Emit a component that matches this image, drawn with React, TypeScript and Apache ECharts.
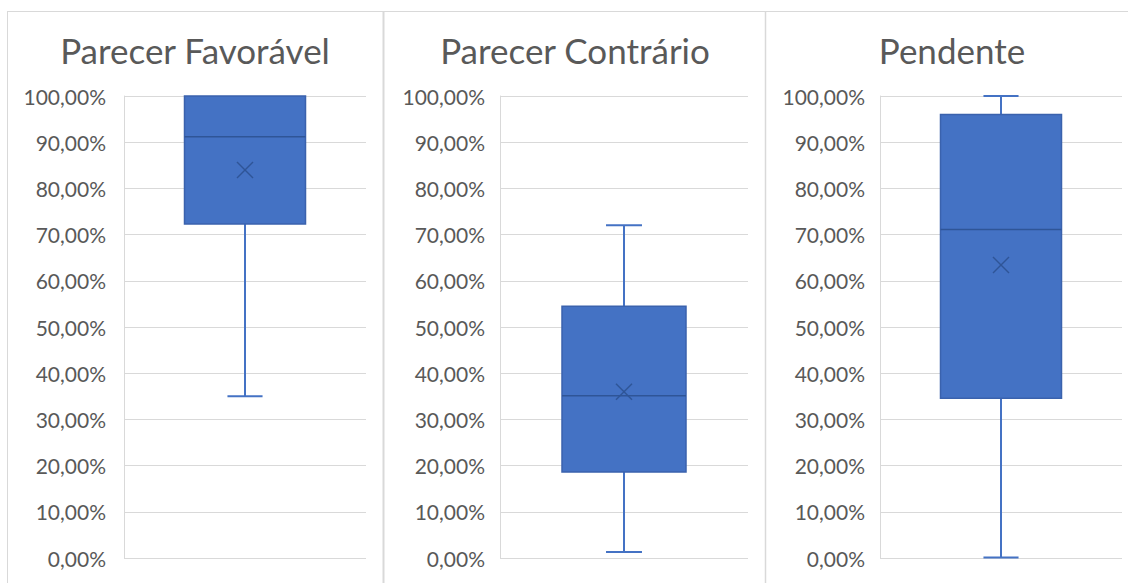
import React, { useEffect, useRef } from "react";
import * as echarts from "echarts";

const categories = ["Parecer Favorável", "Parecer Contrário", "Pendente"];
const minVals = [0.35, 0.013, 0.001];
const q1Vals = [0.723, 0.186, 0.346];
const medianVals = [0.912, 0.351, 0.711];
const q3Vals = [1.0, 0.545, 0.96];
const maxVals = [1.0, 0.72, 1.0];
const meanVals = [0.84, 0.36, 0.634];
const yTicks = [0, 0.1, 0.2, 0.3, 0.4, 0.5, 0.6, 0.7, 0.8, 0.9, 1.0];

const gridLefts = [124, 500, 880];
const gridWidths = [242, 248, 242];
const labelMargins = [18, 15, 15];
const titleCenters = [195, 575, 952];

const FONT = "Lato";
const TEXT = "#595959";
const GRID = "#d9d9d9";
const FILL = "#4472C4";
const DARK = "#2F5597";

const fmt = (v: number) => (v * 100).toFixed(2).replace(".", ",") + "%";

export default function App() {
  const ref = useRef<HTMLDivElement>(null);
  useEffect(() => {
    if (!ref.current) return;
    const chart = echarts.init(ref.current, null, { renderer: "svg" });
    const grids = categories.map((_, i) => ({
      left: gridLefts[i],
      width: gridWidths[i],
      top: 96,
      bottom: 25,
    }));
    const xAxes = categories.map((c, i) => ({
      type: "category",
      gridIndex: i,
      data: [c],
      axisLine: { show: false },
      axisTick: { show: false },
      axisLabel: { show: false },
    }));
    const yAxes = categories.map((_, i) => ({
      type: "value",
      gridIndex: i,
      min: 0,
      max: 1,
      interval: 0.1,
      axisLine: { show: true, lineStyle: { color: GRID, width: 1 } },
      axisTick: { show: false },
      splitLine: { lineStyle: { color: GRID, width: 1 } },
      axisLabel: {
        color: TEXT,
        fontFamily: FONT,
        fontSize: 21,
        margin: labelMargins[i],
        formatter: (v: number) => (yTicks.some((t) => Math.abs(t - v) < 1e-9) ? fmt(v) : ""),
      },
    }));
    const series = categories.map((c, i) => ({
      type: "custom",
      xAxisIndex: i,
      yAxisIndex: i,
      data: [[0, minVals[i], q1Vals[i], medianVals[i], q3Vals[i], maxVals[i], meanVals[i]]],
      encode: { x: 0, y: [1, 2, 3, 4, 5] },
      renderItem: (params: any, api: any) => {
        const x = api.value(0);
        const pMin = api.coord([x, api.value(1)]);
        const pQ1 = api.coord([x, api.value(2)]);
        const pMed = api.coord([x, api.value(3)]);
        const pQ3 = api.coord([x, api.value(4)]);
        const pMax = api.coord([x, api.value(5)]);
        const pMean = api.coord([x, api.value(6)]);
        const band = api.size([1, 0])[0];
        const bw = band * 0.5;
        const cw = bw * 0.29;
        const cx = pMed[0];
        const lineStyle = { stroke: FILL, lineWidth: 2 };
        const children: any[] = [];
        if (pMax[1] < pQ3[1] - 0.5) {
          children.push({ type: "line", shape: { x1: cx, y1: pMax[1], x2: cx, y2: pQ3[1] }, style: lineStyle });
          children.push({ type: "line", shape: { x1: cx - cw / 2, y1: pMax[1], x2: cx + cw / 2, y2: pMax[1] }, style: lineStyle });
        }
        if (pMin[1] > pQ1[1] + 0.5) {
          children.push({ type: "line", shape: { x1: cx, y1: pQ1[1], x2: cx, y2: pMin[1] }, style: lineStyle });
          children.push({ type: "line", shape: { x1: cx - cw / 2, y1: pMin[1], x2: cx + cw / 2, y2: pMin[1] }, style: lineStyle });
        }
        children.push({
          type: "rect",
          shape: { x: cx - bw / 2, y: pQ3[1], width: bw, height: pQ1[1] - pQ3[1] },
          style: { fill: FILL, stroke: "#3A62AD", lineWidth: 1.5 },
        });
        children.push({
          type: "line",
          shape: { x1: cx - bw / 2, y1: pMed[1], x2: cx + bw / 2, y2: pMed[1] },
          style: { stroke: DARK, lineWidth: 1.5 },
        });
        const m = 8;
        children.push({
          type: "line",
          shape: { x1: pMean[0] - m, y1: pMean[1] - m, x2: pMean[0] + m, y2: pMean[1] + m },
          style: { stroke: DARK, lineWidth: 1.5 },
        });
        children.push({
          type: "line",
          shape: { x1: pMean[0] - m, y1: pMean[1] + m, x2: pMean[0] + m, y2: pMean[1] - m },
          style: { stroke: DARK, lineWidth: 1.5 },
        });
        return { type: "group", children };
      },
    }));
    const graphic: any[] = [
      { type: "line", shape: { x1: 7, y1: 11.5, x2: 1128, y2: 11.5 }, style: { stroke: GRID, lineWidth: 1 } },
      { type: "line", shape: { x1: 7.5, y1: 11, x2: 7.5, y2: 583 }, style: { stroke: GRID, lineWidth: 1 } },
      { type: "line", shape: { x1: 383.5, y1: 11, x2: 383.5, y2: 583 }, style: { stroke: GRID, lineWidth: 2 } },
      { type: "line", shape: { x1: 765.5, y1: 11, x2: 765.5, y2: 583 }, style: { stroke: GRID, lineWidth: 1.5 } },
      ...categories.map((c, i) => ({
        type: "text",
        x: titleCenters[i],
        y: 50,
        style: {
          text: c,
          fill: TEXT,
          font: `35px ${FONT}`,
          textAlign: "center",
          textVerticalAlign: "middle",
        },
      })),
    ];
    chart.setOption({
      animation: false,
      backgroundColor: "#ffffff",
      grid: grids,
      xAxis: xAxes,
      yAxis: yAxes,
      series,
      graphic,
    });
    return () => chart.dispose();
  }, []);
  return <div ref={ref} style={{ position: "fixed", left: 0, top: 0, width: 1128, height: 583 }} />;
}
